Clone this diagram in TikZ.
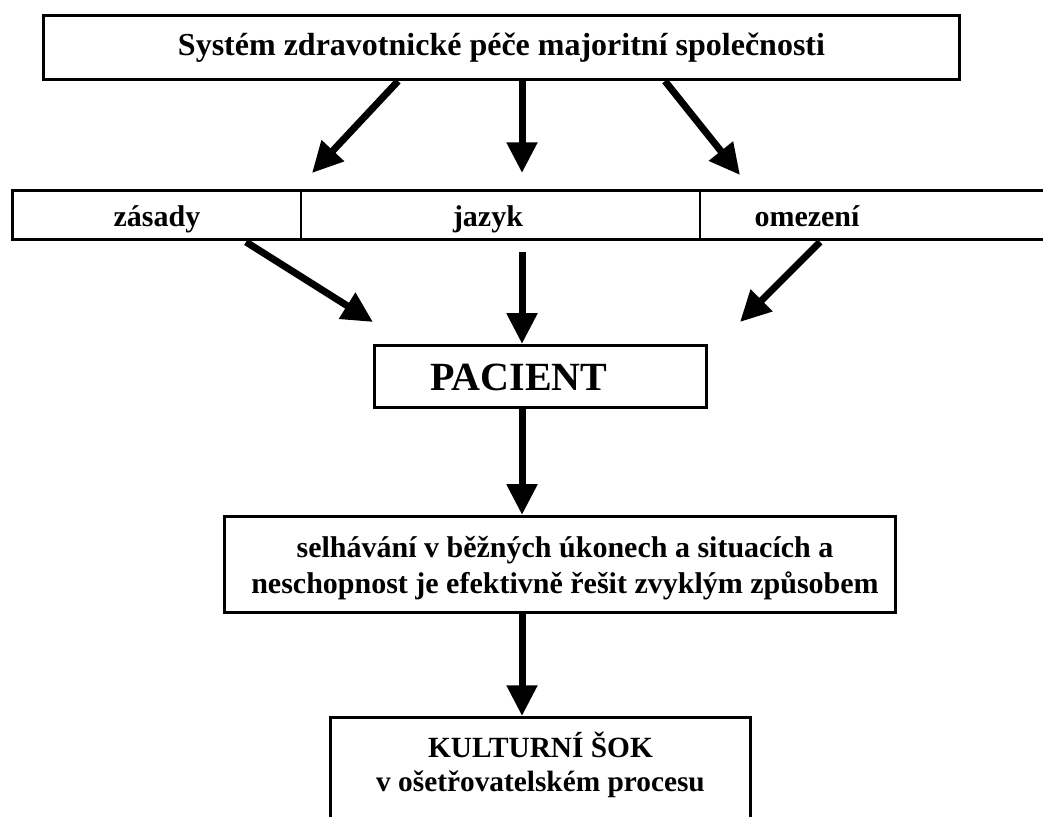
\documentclass[tikz,border=0pt]{standalone}
\usepackage{fontspec}
\setmainfont{Liberation Serif}
\usetikzlibrary{arrows.meta}

\tikzset{every picture/.style={line width=0.75pt}}
\tikzset{
  box/.style={draw, line width=2.4pt, inner sep=0pt},
  flow/.style={line width=5.25pt, -{Triangle[length=23pt,width=22pt]}},
  lbl/.style 2 args={inner sep=0pt, align=center, font=\bfseries\fontsize{#1}{#2}\selectfont}
}

\begin{document}
\begin{tikzpicture}[x=0.75pt,y=0.75pt,yscale=-1,xscale=1]
\useasboundingbox (0,0) rectangle (1043,817);
\coordinate (spine) at (522,0);

%Shape: Rectangle [top]
\node[box, minimum width=687pt, minimum height=48pt, lbl={24}{29}] (sys) at (501.5,47.5) {Systém zdravotnické péče majoritní společnosti};

%Shape: Row of three cells
\draw[line width=2.25pt] (1060,190.5) -- (12.5,190.5) -- (12.5,239.5) -- (1060,239.5);
\draw[line width=1.5pt] (301,190.5) -- (301,239.5);
\draw[line width=1.5pt] (700,190.5) -- (700,239.5);

% Text Node
\node[lbl={22.5}{27}, anchor=base] (zasady) at (157,226) {zásady};
% Text Node
\node[lbl={22.5}{27}, anchor=base] (jazyk) at (488,226) {jazyk};
% Text Node
\node[lbl={22.5}{27}, anchor=base] (omezeni) at (807,226) {omezení};

%Shape: Rectangle [pacient]
\node[box, minimum width=249pt, minimum height=46.5pt] (pacient) at (540.5,376.5) {};
% Text Node
\node[lbl={30}{36}] (pacient-txt) at (519,377) {PACIENT};

%Shape: Rectangle [selhavani]
\node[box, minimum width=503pt, minimum height=72pt] (selhavani) at (560,564.5) {};
% Text Node
\node[lbl={22.5}{27}] (selhavani-txt) at (565,568) {selhávání v běžných úkonech a situacích a\\ neschopnost je efektivně řešit zvyklým způsobem};

%Shape: Open rectangle [sok]
\draw[line width=2.4pt] (330.5,830) -- (330.5,717.5) -- (750.5,717.5) -- (750.5,830);
% Text Node
\node[lbl={22}{25.5}] (sok) at (540.5,765) {KULTURNÍ ŠOK\\ v ošetřovatelském procesu};

% free ends
\coordinate (zasady-in) at (312,173);
\coordinate (jazyk-in) at (522,173);
\coordinate (omezeni-in) at (740,175);
\coordinate (zasady-out) at (246,242);
\coordinate (jazyk-out) at (522,252);
\coordinate (omezeni-out) at (820,242);
\coordinate (zasady-tip) at (373,322);
\coordinate (omezeni-tip) at (740,322);
\coordinate (sok-top) at (522,716);

%Straight Lines
\draw[flow] ([xshift=-77.6pt]sys.south) -- (zasady-in);
\draw[flow] (sys.south -| spine) -- (jazyk-in);
\draw[flow] ([xshift=122.6pt]sys.south) -- (omezeni-in);
%Straight Lines
\draw[flow] (zasady-out) -- (zasady-tip);
\draw[flow] (jazyk-out) -- (pacient.north -| spine);
\draw[flow] (omezeni-out) -- (omezeni-tip);
%Straight Lines
\draw[flow] (pacient.south -| spine) -- (selhavani.north -| spine);
\draw[flow] (selhavani.south -| spine) -- (sok-top);

\end{tikzpicture}
\end{document}
